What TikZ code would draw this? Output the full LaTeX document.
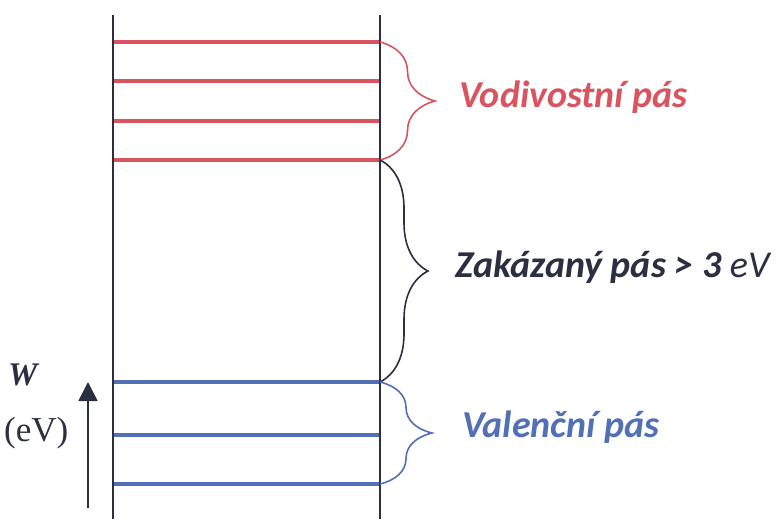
\documentclass[tikz,border=0pt]{standalone}
\usepackage{fontspec}
\setmainfont{Liberation Serif}
\newfontfamily\labelfont{Carlito}
\usetikzlibrary{decorations.pathreplacing,arrows.meta}
\definecolor{bandred}{RGB}{218,84,96}
\definecolor{bandblue}{RGB}{82,112,182}
\definecolor{frame}{RGB}{44,46,66}
\tikzset{
  wall/.style={draw=frame, line width=1.8pt},
  condlevel/.style={draw=bandred, line width=4pt},
  vallevel/.style={draw=bandblue, line width=3.6pt},
  bandbrace/.style={line width=1.6pt, decorate,
    decoration={brace, amplitude=#1}},
  bandlabel/.style={font=\labelfont\fontsize{38}{42}\selectfont\bfseries\itshape, anchor=base west, inner sep=0pt},
}
\begin{document}
\begin{tikzpicture}[x=1pt,y=-1pt]
\useasboundingbox (0,0) rectangle (783,519);
% band edges (walls)
\coordinate (lt) at (113,15);
\coordinate (lb) at (113,519);
\coordinate (rt) at (380,15);
\coordinate (rb) at (380,519);
% conduction band levels
\foreach \i/\y in {1/42,2/81,3/121,4/160}{
  \coordinate (cl\i) at (113,\y);
  \coordinate (cr\i) at (380,\y);
  \draw[condlevel] (cl\i) -- (cr\i);
}
% valence band levels
\foreach \i/\y in {1/382,2/435,3/484}{
  \coordinate (vl\i) at (113,\y);
  \coordinate (vr\i) at (380,\y);
  \draw[vallevel] (vl\i) -- (vr\i);
}
\draw[wall] (lt) -- (lb);
\draw[wall] (rt) -- (rb);
% braces
\draw[bandbrace=55, draw=bandred] (cr1) -- (cr4);
\draw[bandbrace=48, draw=frame] (cr4) -- (vr1);
\draw[bandbrace=52, draw=bandblue] (vr1) -- (vr3);
% labels
\node[bandlabel, text=bandred] (cond) at (459,107) {Vodivostní pás};
\node[bandlabel, text=frame] (gap) at (455,277) {Zakázaný pás > 3 {\mdseries eV}};
\node[bandlabel, text=bandblue] (val) at (462,437) {Valenční pás};
% energy axis
\coordinate (a0) at (88,508);
\coordinate (a1) at (88,382);
\draw[frame, line width=1.8pt, -{Triangle[length=19pt,width=19pt]}] (a0) -- (a1);
\node[font=\fontsize{33}{36}\selectfont\bfseries\itshape, text=frame, inner sep=0pt, anchor=base west] (w) at (8,385) {W};
\node[font=\fontsize{35}{38}\selectfont, text=frame, inner sep=0pt, anchor=base west] (ev) at (4,441) {(eV)};
\end{tikzpicture}
\end{document}
